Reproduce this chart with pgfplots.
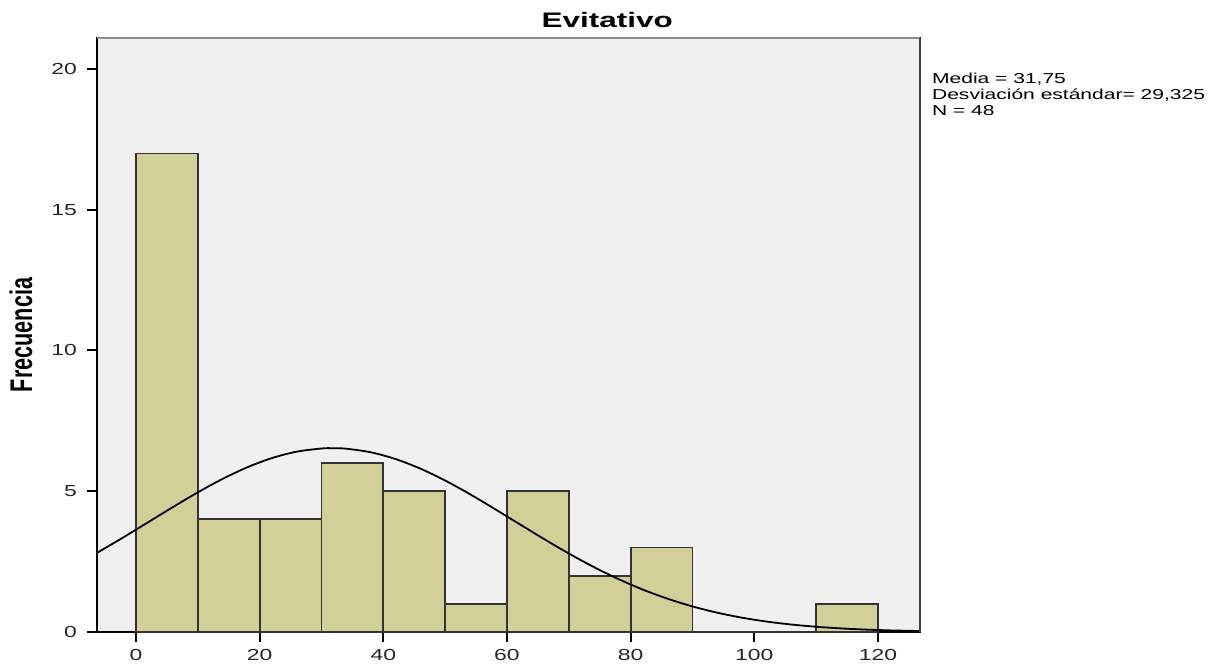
\documentclass[border=0pt]{standalone}
\usepackage{fontspec}
\setmainfont{Liberation Sans}
\usepackage{pgfplots}
\pgfplotsset{compat=1.18}
\definecolor{barfill}{HTML}{D3CF98}
\definecolor{bg}{HTML}{F0F0F0}
\begin{document}
\begin{tikzpicture}
\begin{axis}[
  scale only axis,
  width=411.5pt, height=297pt,
  xmin=-6.3, xmax=126.8, ymin=0, ymax=21.1,
  axis background/.style={fill=bg},
  axis line style={black, line width=1pt},
  xtick={0,20,...,120}, ytick={0,5,...,20},
  tick align=outside, tick pos=left,
  major tick length=5pt,
  tick style={black, line width=1pt},
  tick label style={font=\fontsize{8}{9}\selectfont, text=black!85, xscale=1.43},
  /pgf/number format/assume math mode=true,
  clip=false,
]
\addplot[fill=barfill, draw=black!80, line width=0.9pt, ybar interval]
  coordinates {(0,17) (10,4) (20,4) (30,6) (40,5) (50,1) (60,5) (70,2) (80,3) (90,0) (100,0) (110,1) (120,1)};
\addplot[black, line width=0.9pt, smooth, no marks] coordinates {
(-6.3,2.81) (-2,3.367) (2,3.903) (6,4.441) (10,4.960) (14,5.437) (18,5.850) (22,6.179) (26,6.406) (30,6.518) (31.75,6.530) (34,6.511) (38,6.383) (42,6.143) (46,5.803) (50,5.381) (54,4.897) (58,4.374) (62,3.836) (66,3.302) (70,2.789) (74,2.313) (78,1.883) (82,1.504) (86,1.180) (90,0.908) (94,0.686) (98,0.509) (102,0.370) (106,0.265) (110,0.186) (114,0.128) (118,0.086) (122,0.057) (126.8,0.034)};
\draw[black!45, line width=1pt] (rel axis cs:0,1) -- (rel axis cs:1,1);
\draw[black!75, line width=1pt] (rel axis cs:1,0) -- (rel axis cs:1,1);
\node[anchor=north west, align=left, inner sep=0pt, xscale=1.46, font=\fontsize{7.2}{8}\selectfont]
  at ([yshift=-1.5pt]rel axis cs:1.014,0.947) {Media = 31,75\\Desviación estándar= 29,325\\N = 48};
\node[xscale=1.5, font=\bfseries\fontsize{10.5}{12}\selectfont] at ([yshift=9pt]rel axis cs:0.62,1) {Evitativo};
\end{axis}
\node[rotate=90, font=\bfseries\fontsize{10.8}{12}\selectfont] at ([xshift=-38pt]current axis.west) {\scalebox{1}[1.45]{Frecuencia}};
\path[use as bounding box] ([xshift=-48.5pt,yshift=-15pt]current axis.south west) rectangle ([xshift=154.5pt,yshift=19pt]current axis.north east);
\end{tikzpicture}
\end{document}
